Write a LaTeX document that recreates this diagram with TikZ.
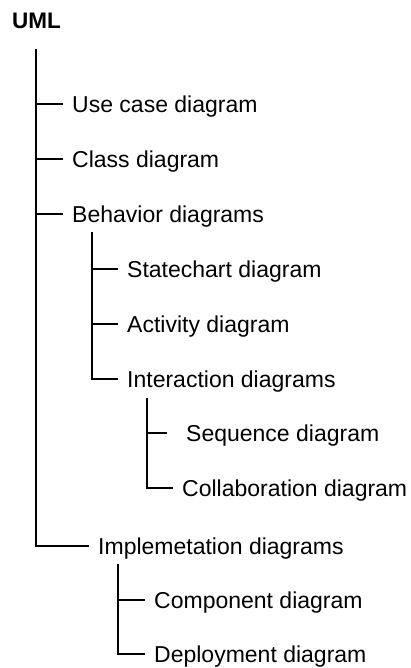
\documentclass[tikz,border=0pt]{standalone}
\usepackage{fontspec}
\setmainfont{Liberation Sans}
\begin{document}
\begin{tikzpicture}[x=1pt,y=1pt,
  tree/.style={draw=black,line width=1.1pt},
  item/.style={anchor=west,font=\fontsize{23}{27}\selectfont,
    inner xsep=9pt,inner ysep=0pt,text height=16.5pt,text depth=0pt},
  rootlabel/.style={anchor=base west,inner sep=0pt,
    font=\fontsize{22.5}{26}\selectfont\bfseries}]
\useasboundingbox (0,0) rectangle (411,-668);

% root
\node[rootlabel] (uml) at (12,-29) {UML};

% first level
\node[item] (usecase)  at (63,-104) {Use case diagram};
\node[item] (class)    at (63,-159) {Class diagram};
\node[item] (behavior) at (63,-214) {Behavior diagrams};
\node[item] (implementation) at (89,-546) {Implemetation diagrams};

% behavior diagrams
\node[item] (statechart)  at (118,-269) {Statechart diagram};
\node[item] (activity)    at (118,-324) {Activity diagram};
\node[item] (interaction) at (118,-379) {Interaction diagrams};

% interaction diagrams
\node[item,inner xsep=19pt] (sequence) at (167,-433) {Sequence diagram};
\node[item] (collaboration) at (173,-488) {Collaboration diagram};

% implementation diagrams
\node[item] (component)  at (145,-600) {Component diagram};
\node[item] (deployment) at (145,-654) {Deployment diagram};

% trunk tops
\coordinate (trunkA) at (36,-49);
\coordinate (trunkB) at (92,-232);
\coordinate (trunkC) at (147,-398);
\coordinate (trunkD) at (118,-564);

% connectors
\draw[tree] (trunkA) |- (implementation.west);
\draw[tree] (trunkA |- usecase.west) -- (usecase.west);
\draw[tree] (trunkA |- class.west) -- (class.west);
\draw[tree] (trunkA |- behavior.west) -- (behavior.west);

\draw[tree] (trunkB) |- (interaction.west);
\draw[tree] (trunkB |- statechart.west) -- (statechart.west);
\draw[tree] (trunkB |- activity.west) -- (activity.west);

\draw[tree] (trunkC) |- (collaboration.west);
\draw[tree] (trunkC |- sequence.west) -- (sequence.west);

\draw[tree] (trunkD) |- (deployment.west);
\draw[tree] (trunkD |- component.west) -- (component.west);
\end{tikzpicture}
\end{document}
